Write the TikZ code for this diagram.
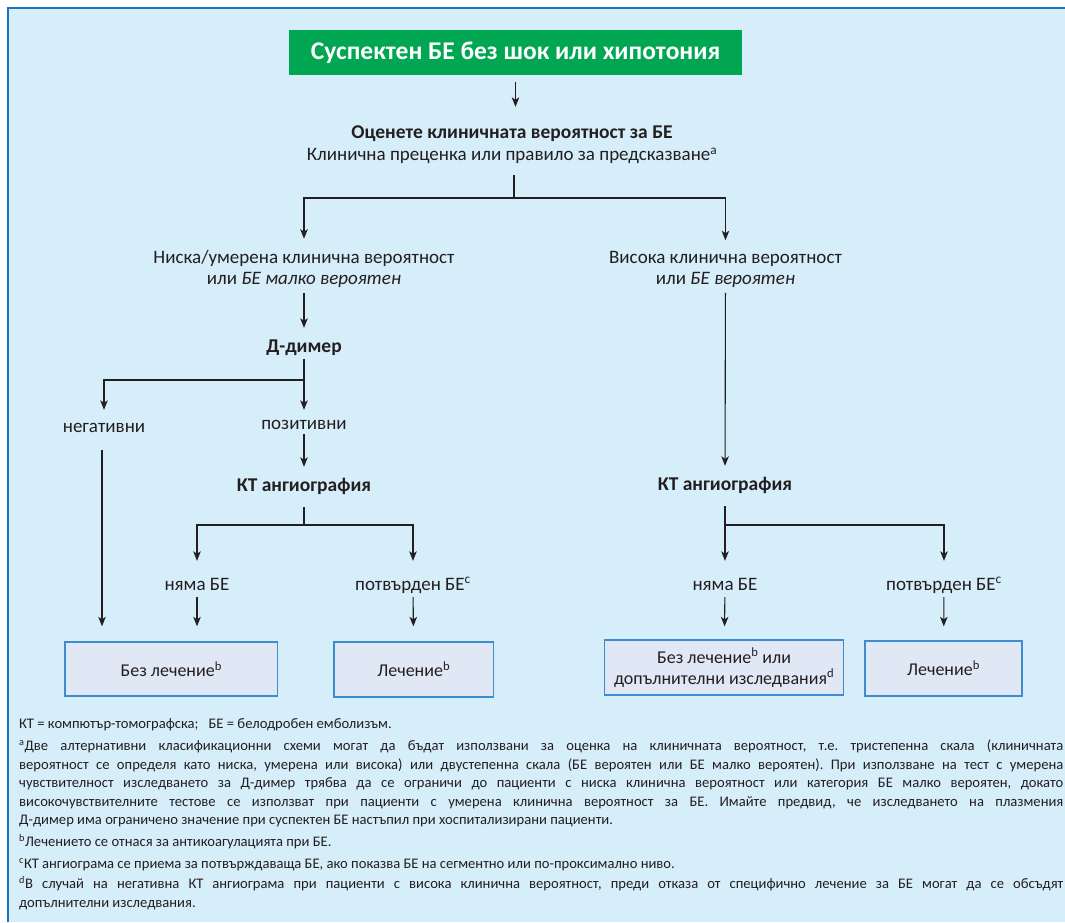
\documentclass[tikz,border=0pt]{standalone}
\usepackage{fontspec}
\setmainfont{Carlito}
\usetikzlibrary{arrows.meta}
\definecolor{panel}{HTML}{D6EDFA}
\definecolor{frameblue}{HTML}{1C75BC}
\definecolor{titlegreen}{HTML}{00A651}
\definecolor{ink}{HTML}{231F20}
\definecolor{boxfill}{HTML}{E1E8F5}
\definecolor{boxline}{HTML}{3C8DCF}
\newcommand\fullline[1]{\makebox[1044pt][s]{#1}}
\frenchspacing
\begin{document}
\begin{tikzpicture}[x=1pt,y=-1pt,
  every node/.style={text=ink},
  lbl/.style={inner sep=0pt, align=center, font=\fontsize{19}{21}\selectfont},
  oneline/.style={lbl, text height=13.5pt, text depth=4.5pt},
  boldline/.style={oneline, font=\fontsize{19.5}{21}\selectfont\bfseries},
  titlebox/.style={fill=titlegreen, text=white, inner sep=0pt,
    minimum width=453pt, minimum height=45pt,
    font=\fontsize{25.5}{28}\selectfont\bfseries},
  outcome/.style={draw=boxline, fill=boxfill, line width=1.3pt, inner sep=0pt,
    align=center, font=\fontsize{18}{21}\selectfont},
  link/.style={draw=ink, line width=1.1pt},
  flow/.style={link, -{Stealth[length=9.5pt,width=7.5pt,inset=2.5pt]}},
]
\useasboundingbox (0,0) rectangle (1065,922);
% panel and its frame
\fill[panel] (8,8) rectangle (1065,922);
\draw[frameblue, line width=2pt] (8,922) -- (8,8) -- (1065,8);

% title and assessment
\node[titlebox] (title) at (515.5,52.5) {Суспектен БЕ без шок или хипотония};
\node[lbl] (assess) at (512,145) {{\fontsize{19.5}{21}\selectfont\bfseries Оценете клиничната вероятност за БЕ}\\[1pt]Клинична преценка или правило за предсказване\textsuperscript{a}};

% probability branches
\node[lbl] (low) at (304,268.5) {Ниска/умерена клинична вероятност\\или \textit{БЕ малко вероятен}};
\node[lbl] (high) at (725.5,269.5) {Висока клинична вероятност\\или \textit{БЕ вероятен}};

% left branch
\node[boldline] (ddimer) at (304,347.5) {Д-димер};
\node[oneline] (neg) at (104,427.5) {негативни};
\node[oneline] (pos) at (304,424.5) {позитивни};
\node[boldline] (ctl) at (304,486.5) {КТ ангиография};
\node[oneline] (noL) at (197,585.5) {няма БЕ};
\node[oneline] (confL) at (413,585.5) {потвърден БЕ\textsuperscript{c}};

% right branch
\node[boldline] (ctr) at (725,485.5) {КТ ангиография};
\node[oneline] (noR) at (725,585.5) {няма БЕ};
\node[oneline] (confR) at (944,585.5) {потвърден БЕ\textsuperscript{c}};

% outcomes
\node[outcome, minimum width=212.5pt, minimum height=54pt] (box1) at (171.25,669) {Без лечение\textsuperscript{b}};
\node[outcome, minimum width=159.5pt, minimum height=55pt] (box2) at (413.75,669.5) {Лечение\textsuperscript{b}};
\node[outcome, minimum width=239pt, minimum height=55pt] (box3) at (724.1,667.5) {Без лечение\textsuperscript{b} или\\допълнителни изследвания\textsuperscript{d}};
\node[outcome, minimum width=157pt, minimum height=55pt] (box4) at (943.5,668.5) {Лечение\textsuperscript{b}};

% branching points
\coordinate (split1) at (514,198);
\coordinate (split2) at (304,380);
\coordinate (split3) at (304,525);
\coordinate (split4) at (725,525);

% connectors
\draw[flow, shorten <=7pt, shorten >=19pt] (title) -- (title |- assess.north);
\draw[link, shorten <=11pt] (assess.south -| split1) -- (split1);
\draw[flow, shorten >=11pt] (split1) -| (low);
\draw[flow, shorten >=11pt] (split1) -| (high);
\draw[flow, shorten <=6pt, shorten >=10.5pt] (low) -- (ddimer);
\draw[link, shorten <=2.5pt] (ddimer) -- (split2);
\draw[flow, shorten >=8.5pt] (split2) -| (neg);
\draw[flow, shorten >=5.5pt] (split2) -- (pos);
\draw[flow, shorten <=0.5pt, shorten >=10.5pt] (pos) -- (ctl);
\draw[link, shorten <=11.5pt] (ctl) -- (split3);
\draw[flow, shorten >=15.5pt] (split3) -| (noL);
\draw[flow, shorten >=15.5pt] (split3) -| (confL);
\draw[flow, shorten <=2.5pt, shorten >=15pt] (noL) -- (noL |- box1.north);
\draw[flow, shorten <=2.5pt, shorten >=15pt] (confL) -- (box2);
\draw[flow, shorten <=13.5pt, shorten >=15pt] ([xshift=-2pt]neg.south) -- ([xshift=-2pt]neg.south |- box1.north);
\draw[flow, shorten <=5pt, shorten >=10.5pt] (high) -- (ctr);
\draw[flow, shorten <=11.5pt, shorten >=15.5pt] (ctr) -- (noR);
\draw[flow, shorten >=15.5pt] (split4) -| (confR);
\draw[flow, shorten <=2.5pt, shorten >=13pt] (noR) -- (box3);
\draw[flow, shorten <=2.5pt, shorten >=14pt] (confR) -- (box4);

% abbreviations and footnotes
\node[anchor=north west, inner sep=0pt, align=left, font=\fontsize{14.6}{18.5}\selectfont] (notes) at (19,718.5) {%
КТ = компютър-томографска;\hspace{10pt}БЕ = белодробен емболизъм.\\[3.5pt]
\fullline{\textsuperscript{a}Две алтернативни класификационни схеми могат да бъдат използвани за оценка на клиничната вероятност, т.е. тристепенна скала (клиничната}\\
\fullline{вероятност се определя като ниска, умерена или висока) или двустепенна скала (БЕ вероятен или БЕ малко вероятен). При използване на тест с умерена}\\
\fullline{чувствителност изследването за Д-димер трябва да се ограничи до пациенти с ниска клинична вероятност или категория БЕ малко вероятен, докато}\\
\fullline{високочувствителните тестове се използват при пациенти с умерена клинична вероятност за БЕ. Имайте предвид, че изследването на плазмения}\\
Д-димер има ограничено значение при суспектен БЕ настъпил при хоспитализирани пациенти.\\[3.5pt]
\textsuperscript{b}Лечението се отнася за антикоагулацията при БЕ.\\[3.5pt]
\textsuperscript{c}КТ ангиограма се приема за потвърждаваща БЕ, ако показва БЕ на сегментно или по-проксимално ниво.\\[1.5pt]
\fullline{\textsuperscript{d}В случай на негативна КТ ангиограма при пациенти с висока клинична вероятност, преди отказа от специфично лечение за БЕ могат да се обсъдят}\\
допълнителни изследвания.};
\end{tikzpicture}
\end{document}
